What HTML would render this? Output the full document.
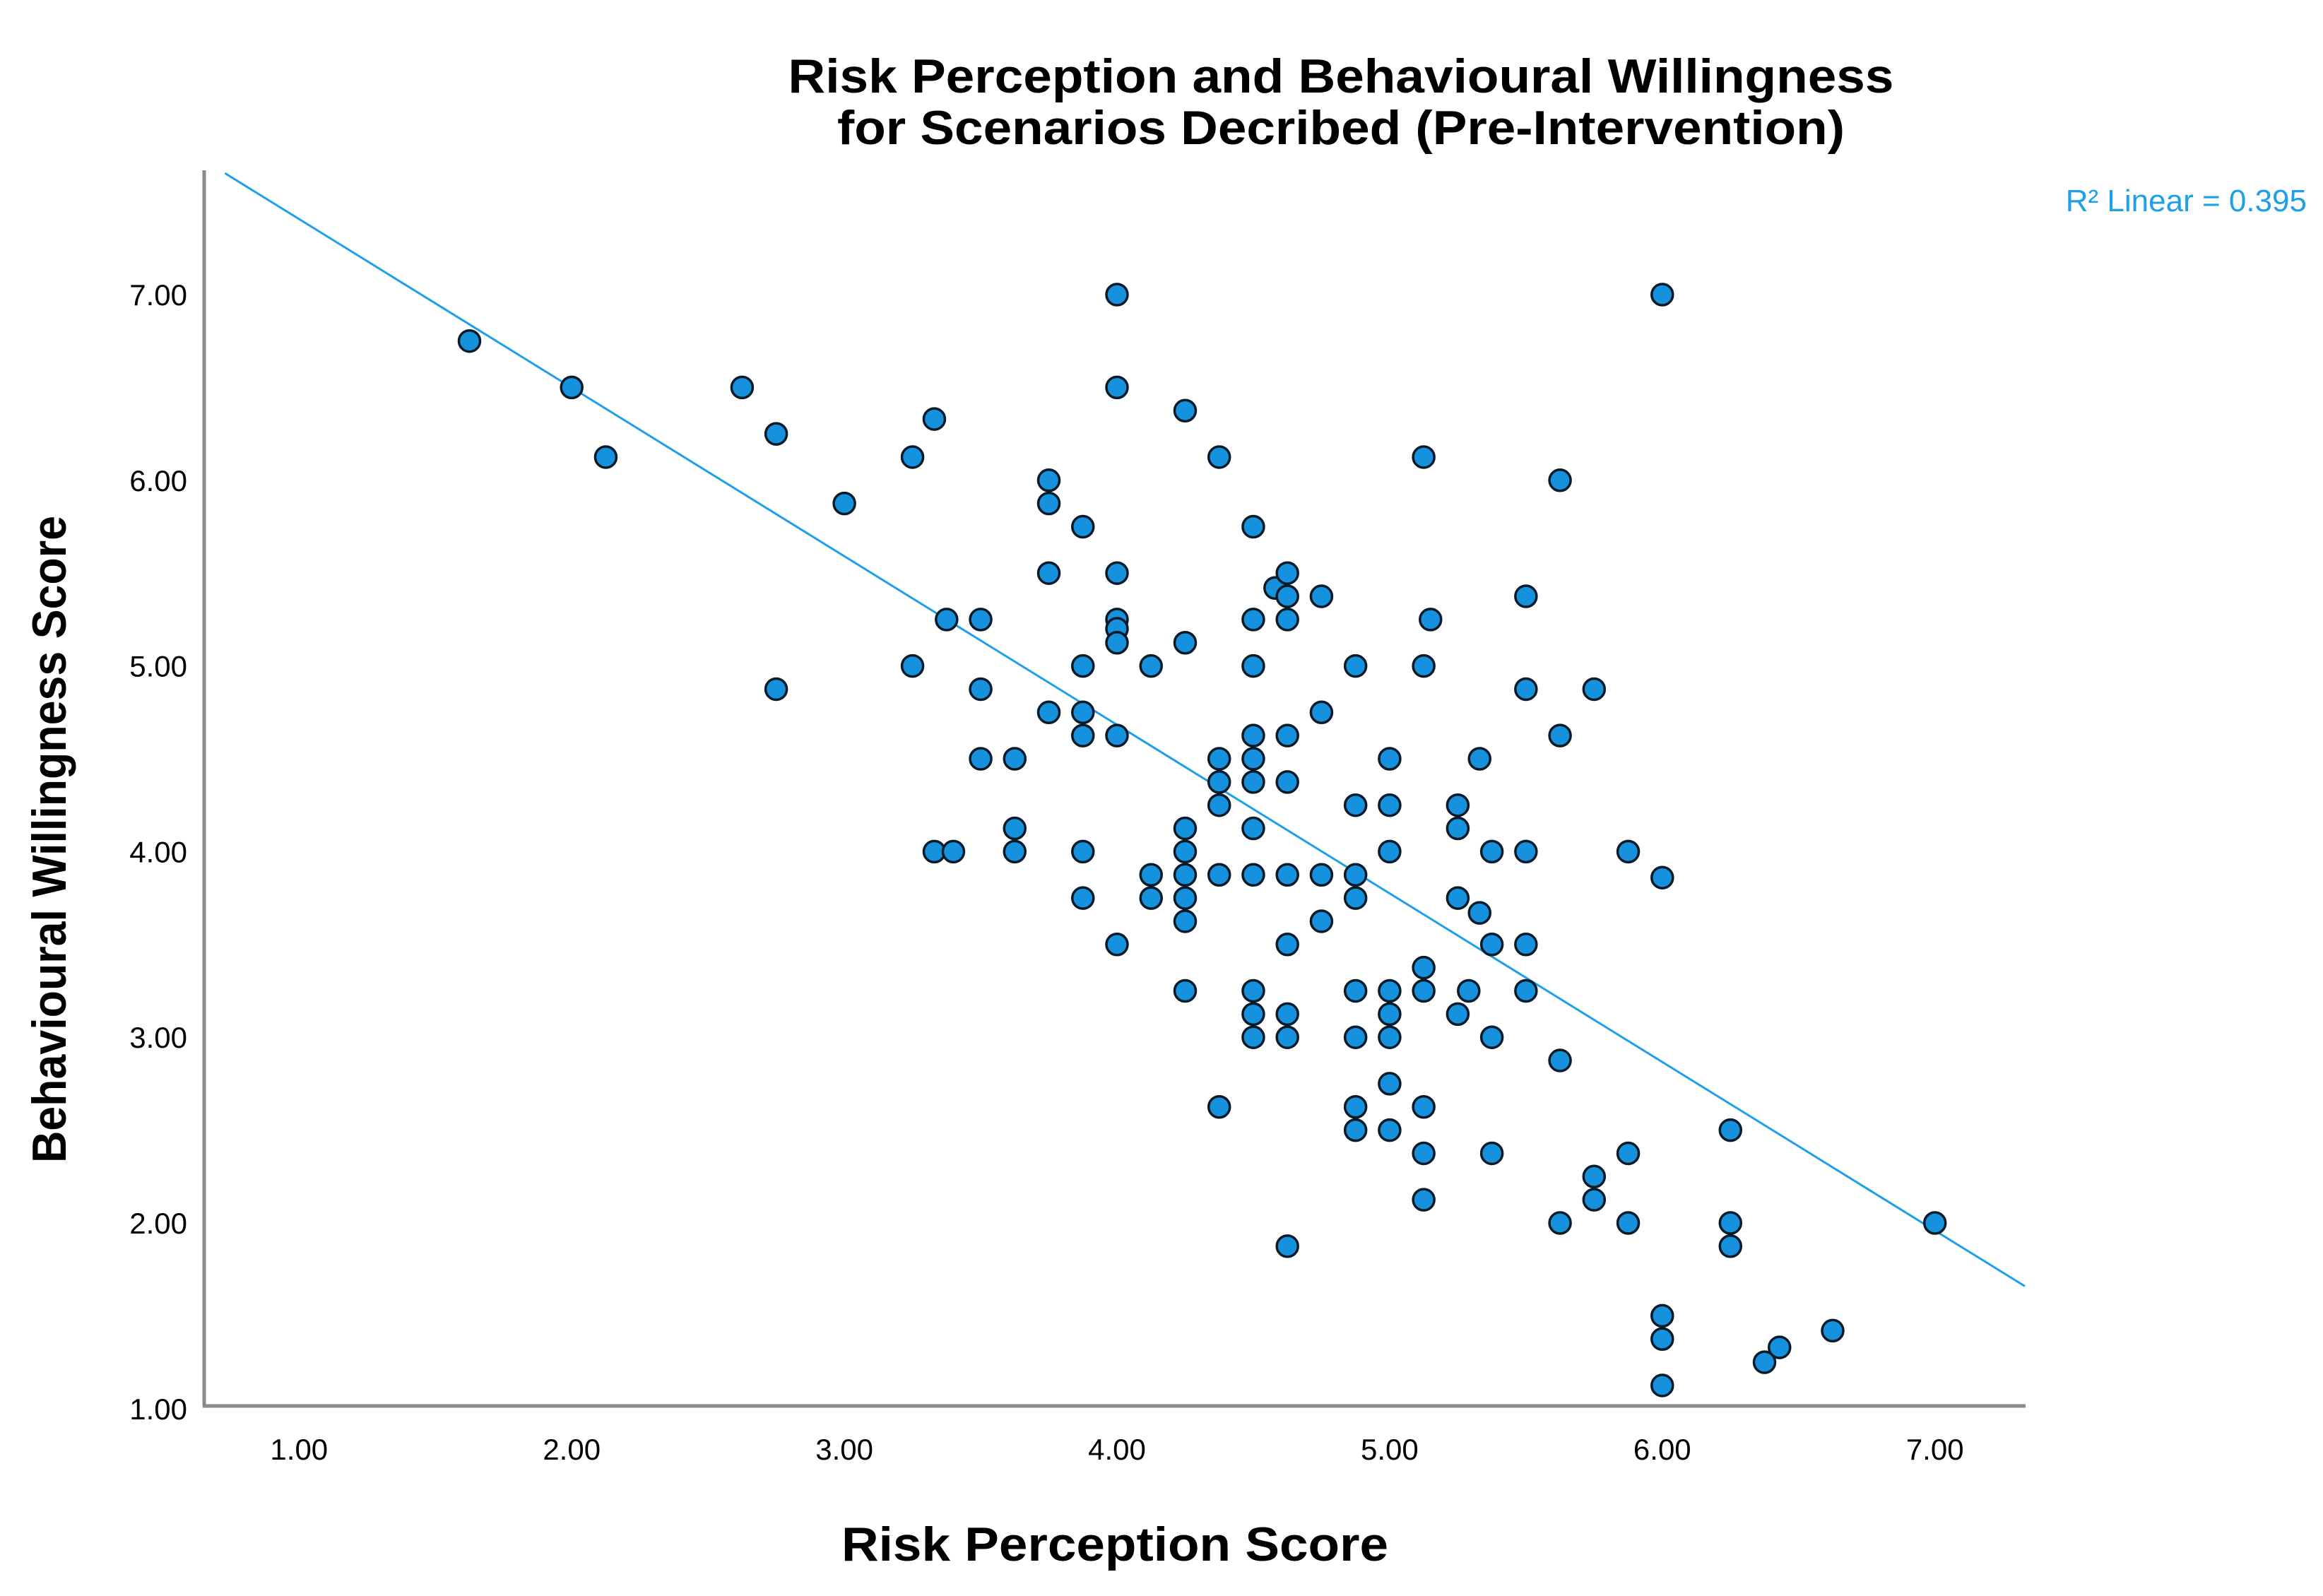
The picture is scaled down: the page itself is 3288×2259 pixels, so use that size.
<!DOCTYPE html>
<html><head><meta charset="utf-8"><style>
html,body{margin:0;padding:0;background:#fff;}
svg{display:block;font-family:"Liberation Sans",Arial,sans-serif;}
</style></head><body>
<svg id="chart" width="3288" height="2259" viewBox="0 0 3288 2259" xmlns="http://www.w3.org/2000/svg">
<rect width="3288" height="2259" fill="#fff"/>
<text x="1898" y="131" font-size="68" font-weight="bold" text-anchor="middle" fill="#000" textLength="1565" lengthAdjust="spacingAndGlyphs">Risk Perception and Behavioural Willingness</text>
<text x="1898" y="204" font-size="68" font-weight="bold" text-anchor="middle" fill="#000" textLength="1426" lengthAdjust="spacingAndGlyphs">for Scenarios Decribed (Pre-Intervention)</text>
<g id="axes"></g>
<g id="fit"></g>
<g id="points"></g>
<text x="3265" y="299" font-size="44" text-anchor="end" fill="#1ea0e6">R² Linear = 0.395</text>
<text x="1578" y="2209" font-size="68" font-weight="bold" text-anchor="middle" fill="#000" textLength="774" lengthAdjust="spacingAndGlyphs">Risk Perception Score</text>
<text x="0" y="0" font-size="68" font-weight="bold" text-anchor="middle" fill="#000" textLength="916" lengthAdjust="spacingAndGlyphs" transform="translate(93,1188) rotate(-90)">Behavioural Willingness Score</text>
</svg>
<script>
const xTicks = [1,2,3,4,5,6,7];
const yTicks = [1,2,3,4,5,6,7];
const xTickLabels = ["1.00","2.00","3.00","4.00","5.00","6.00","7.00"];
const yTickLabels = ["1.00","2.00","3.00","4.00","5.00","6.00","7.00"];
const riskScores = [1.625,2.0,2.125,2.625,2.75,2.75,3.0,3.25,3.25,3.33,3.375,3.33,3.4,3.5,3.5,3.5,3.625,3.625,3.625,3.75,3.75,3.75,3.75,3.875,3.875,3.875,3.875,3.875,3.875,4,4,4,4,4,4,4,4,4.125,4.125,4.125,4.25,4.25,4.25,4.25,4.25,4.25,4.25,4.25,4.375,4.375,4.375,4.375,4.375,4.375,4.5,4.5,4.5,4.5,4.5,4.5,4.5,4.5,4.5,4.5,4.5,4.58,4.625,4.625,4.625,4.625,4.625,4.625,4.625,4.625,4.625,4.625,4.75,4.75,4.75,4.75,4.875,4.875,4.875,4.875,4.875,4.875,4.875,4.875,5,5,5,5,5,5,5,5,5.125,5.125,5.15,5.125,5.125,5.125,5.125,5.125,5.25,5.25,5.25,5.25,5.29,5.33,5.33,5.375,5.375,5.375,5.375,5.5,5.5,5.5,5.5,5.5,5.625,5.625,5.625,5.625,5.75,5.75,5.75,5.875,5.875,5.875,6,6,6,6,6,6.25,6.25,6.25,6.375,6.43,6.625,7.0];
const willingnessScores = [6.75,6.5,6.125,6.5,6.25,4.875,5.875,6.125,5.0,6.33,5.25,4.0,4.0,5.25,4.875,4.5,4.5,4.125,4.0,6.0,5.875,5.5,4.75,5.75,5.0,4.75,4.625,4.0,3.75,7.0,6.5,5.5,5.25,5.2,5.125,4.625,3.5,5.0,3.875,3.75,6.375,5.125,4.125,4.0,3.875,3.75,3.625,3.25,6.125,4.5,4.375,4.25,3.875,2.625,5.75,5.25,5.0,4.625,4.5,4.375,4.125,3.875,3.25,3.125,3.0,5.42,5.5,5.375,5.25,4.625,4.375,3.875,3.5,3.125,3.0,1.875,5.375,4.75,3.875,3.625,5.0,4.25,3.875,3.75,3.25,3.0,2.625,2.5,4.5,4.25,4.0,3.25,3.125,3.0,2.75,2.5,6.125,5.0,5.25,3.375,3.25,2.625,2.375,2.125,4.25,4.125,3.75,3.125,3.25,4.5,3.67,4.0,3.5,3.0,2.375,5.375,4.875,4.0,3.5,3.25,6.0,4.625,2.875,2.0,4.875,2.25,2.125,4.0,2.375,2.0,7.0,3.86,1.5,1.375,1.125,2.5,2.0,1.875,1.25,1.33,1.42,2.0];
const fitIntercept = [8.315];
const fitSlope = [-0.908];
const fitRange = [0.728, 7.33];

const NS = "http://www.w3.org/2000/svg";
function xScale(v){ return 1581 + (v - 4) * 385.9; }
function yScale(v){ return 417 + (7 - v) * 262.8; }
function mk(tag, attrs, parent){ const e=document.createElementNS(NS,tag); for(const k in attrs) e.setAttribute(k,attrs[k]); parent.appendChild(e); return e; }

const axes = document.getElementById('axes');
const yAxis = mk('line',{x1:289,y1:241,x2:289,y2:1990,stroke:'#8a8a8a','stroke-width':5},axes);


const xAxis = mk('line',{x1:287,y1:1990,x2:2867,y2:1990,stroke:'#8a8a8a','stroke-width':5},axes);


xTicks.forEach((t,i)=>{
  const tx = mk('text',{x:xScale(t),y:2066,'font-size':42,'text-anchor':'middle',fill:'#000'},axes);
  tx.textContent = xTickLabels[i];
  
  
});
yTicks.forEach((t,i)=>{
  const tx = mk('text',{x:265,y:yScale(t)+15,'font-size':42,'text-anchor':'end',fill:'#000'},axes);
  tx.textContent = yTickLabels[i];
  
  
});

const fit = document.getElementById('fit');
const fl = mk('line',{x1:xScale(fitRange[0]),y1:yScale(fitIntercept[0]+fitSlope[0]*fitRange[0]),x2:xScale(fitRange[1]),y2:yScale(fitIntercept[0]+fitSlope[0]*fitRange[1]),stroke:'#1ea0e6','stroke-width':3},fit);



const pts = document.getElementById('points');
riskScores.forEach((x,i)=>{
  const c = mk('circle',{cx:xScale(x),cy:yScale(willingnessScores[i]),r:15,fill:'#1591dd',stroke:'#0a1a26','stroke-width':3.5},pts);
  
  
});
</script>
</body></html>
